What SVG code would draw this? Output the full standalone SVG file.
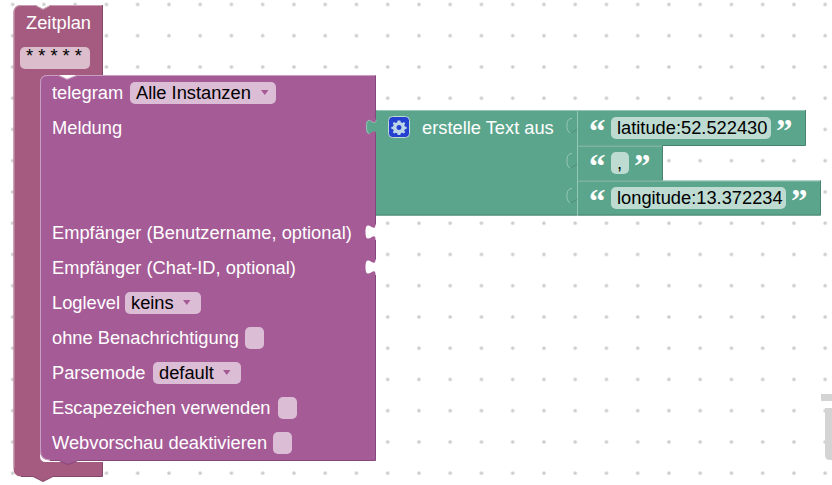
<svg xmlns="http://www.w3.org/2000/svg" width="832" height="485" viewBox="0 0 832 485">
<style>
text{font-family:"Liberation Sans",Arial,sans-serif;font-size:18.3px}
.l{fill:#fff}
.f{fill:#000}
.fp{fill:#dbbdd5}
.fz{fill:#dbbdcb}
.fg{fill:#bddbd1}
.arr{fill:#a55a96}
.tele{fill:#a55b96}
.zeit{fill:#a55b80}
.gr{fill:#5ba58c}
.dg{fill:none;stroke:#498470;stroke-width:1}
.dp{fill:none;stroke:#84487a;stroke-width:1}
.dz{fill:none;stroke:#84486a;stroke-width:1}
.hl{fill:none;stroke:#bddbd1;stroke-width:1;opacity:.6}
.hp{fill:none;stroke:#c9a0c2;stroke-width:1}
.hz{fill:none;stroke:#c99fb3;stroke-width:1}
.q{fill:#fff;font-family:"Liberation Serif",serif;font-weight:bold;font-size:33px}
</style>
<defs>
<pattern id="dots" x="12.7" y="4.4" width="31.25" height="31.25" patternUnits="userSpaceOnUse">
<circle cx="0" cy="0" r="1.8" fill="#ccc"/><circle cx="31.25" cy="0" r="1.8" fill="#ccc"/><circle cx="0" cy="31.25" r="1.8" fill="#ccc"/><circle cx="31.25" cy="31.25" r="1.8" fill="#ccc"/>
</pattern>
</defs>
<rect width="832" height="485" fill="#fff"/>
<rect width="832" height="485" fill="url(#dots)"/>
<path d="M821 394H832V401H821ZM825 408H832V460H830Q825 460 825 455Z" fill="#d4d4d4"/>
<g id="connectors"></g>
<g id="node-zeitplan">
<path class="zeit" d="M13.500 13Q13.500 5 21 5H35.500L43 9L50.500 5H102.500V75H48Q40 75 40 83V456Q40 462 46 462H102.500V476.500H53L43 481.500L33 476.500H21Q13.500 476.500 13.500 468Z"/>
<path class="hz" d="M14 468V13Q14 5.500 21 5.500H35.500L43 9.500L50.500 5.500H102"/>
<path class="dz" d="M102.500 5V75M102.500 462V476.500H53L43 481.500L33 476.500H21"/>
<text class="l" x="26" y="29">Zeitplan</text>
<rect class="fz" x="20" y="47" width="70" height="22" rx="5"/>
<text class="f" x="26" y="62">* * * * *</text>
</g>
<g id="node-telegram">
<path d="M40 83Q40 75 48 75H58.500L67 79L77 75H375.500V224.500c0,10 -10,-8 -10,7.500s10,-2.500 10,7.500V259.500c0,10 -10,-8 -10,7.500s10,-2.500 10,7.500V460.500H78L68 464.500L59 460.500H50Q40 460.500 40 450Z" class="tele"/>
<path class="hp" d="M50 460Q40.500 460 40.500 450V83Q40.500 75.500 48 75.500H58.500L67 79.500L77 75.500H375"/>
<path class="dp" d="M375.500 75.500V224.500M375.500 240V259.500M375.500 275V460.500H78L68 464.500L59 460.500H50"/>
<text class="l" x="52" y="99">telegram</text>
<rect class="fp" x="130" y="82" width="146" height="22" rx="5"/>
<text class="f" x="136" y="99">Alle Instanzen</text>
<path class="arr" d="M261 90H268.500L264.750 95Z"/>
<text class="l" x="52" y="134">Meldung</text>
<text class="l" x="52" y="239">Empfänger (Benutzername, optional)</text>
<text class="l" x="52" y="274">Empfänger (Chat-ID, optional)</text>
<text class="l" x="52" y="309">Loglevel</text>
<rect class="fp" x="125" y="292" width="76" height="22" rx="5"/>
<text class="f" x="131" y="309">keins</text>
<path class="arr" d="M183 300H190.500L186.750 305Z"/>
<text class="l" x="52" y="344">ohne Benachrichtigung</text>
<rect class="fp" x="245" y="327" width="19" height="22" rx="5"/>
<text class="l" x="52" y="379">Parsemode</text>
<rect class="fp" x="153" y="362" width="88" height="22" rx="5"/>
<text class="f" x="159" y="379">default</text>
<path class="arr" d="M223 370H230.500L226.750 375Z"/>
<text class="l" x="52" y="414">Escapezeichen verwenden</text>
<rect class="fp" x="278" y="397" width="19" height="22" rx="5"/>
<text class="l" x="52" y="449">Webvorschau deaktivieren</text>
<rect class="fp" x="273" y="432" width="19" height="22" rx="5"/>
</g>
<g id="node-erstelle-text">
<path class="gr" d="M376 110H577V215.500H376V134.500c0,-10 -10,8 -10,-7.500s10,2.500 10,-7.500Z"/>
<path class="dg" d="M376 215H577"/>
<path class="hl" d="M376.500 110.500H577M376 119.500c0,10 -9.500,-8 -9.500,7.500c0,4 1,6.500 3,7"/>
<rect x="388.500" y="116.500" width="21" height="21" rx="4" fill="#2440d0" stroke="#bddbd1"/>
<path d="M399 120.500l1.300 0 .5 1.800 1.500.6 1.600-.9 1.300 1.300-.9 1.600.6 1.500 1.800.5v1.800l-1.800.5-.6 1.500.9 1.600-1.300 1.300-1.600-.9-1.500.6-.5 1.800h-2.600l-.5-1.800-1.500-.6-1.600.9-1.300-1.300.9-1.600-.6-1.500-1.800-.5v-1.800l1.800-.5.600-1.500-.9-1.600 1.300-1.300 1.600.9 1.500-.6.500-1.800zM399 125a2.500 2.500 0 1 0 .01 0z" fill="#bcd6e8" fill-rule="evenodd"/>
<text class="l" x="422" y="134">erstelle Text aus</text>
</g>
<g id="node-latitude">
<path class="gr" d="M577 110H806V145.500H577Z"/>
<path class="dg" d="M805.500 110V145.500H578"/>
<path class="hl" d="M577.500 145V110.500H805M572 118.500c-3,0 -5,1.500 -5,7.500c0,4.500 1.500,6.500 3.500,7"/>
<path class="dg" d="M570.500 133L577 129.500" opacity=".7"/>
<text class="q" x="589" y="142">“</text>
<rect class="fg" x="611" y="117" width="160" height="22" rx="5"/>
<text class="f" x="617" y="134">latitude:52.522430</text>
<text class="q" x="776" y="142">”</text>
</g>
<g id="node-comma">
<path class="gr" d="M577 145.500H663V180.500H577Z"/>
<path class="dg" d="M662.500 145.500V180.500H578"/>
<path class="hl" d="M577.500 180V146H662M572 153.500c-3,0 -5,1.500 -5,7.500c0,4.500 1.500,6.500 3.500,7"/>
<path class="dg" d="M570.500 168L577 164.500" opacity=".7"/>
<text class="q" x="589" y="177">“</text>
<rect class="fg" x="611" y="152" width="18" height="22" rx="5"/>
<text class="f" x="617" y="169">,</text>
<text class="q" x="634" y="177">”</text>
</g>
<g id="node-longitude">
<path class="gr" d="M577 180.500H821V215.500H577Z"/>
<path class="dg" d="M820.500 180.500V215H578"/>
<path class="hl" d="M577.500 215V181H820M572 188.500c-3,0 -5,1.500 -5,7.500c0,4.500 1.500,6.500 3.500,7"/>
<path class="dg" d="M570.500 203L577 199.500" opacity=".7"/>
<text class="q" x="589" y="212">“</text>
<rect class="fg" x="611" y="187" width="175" height="22" rx="5"/>
<text class="f" x="617" y="204">longitude:13.372234</text>
<text class="q" x="791" y="212">”</text>
</g>
</svg>
